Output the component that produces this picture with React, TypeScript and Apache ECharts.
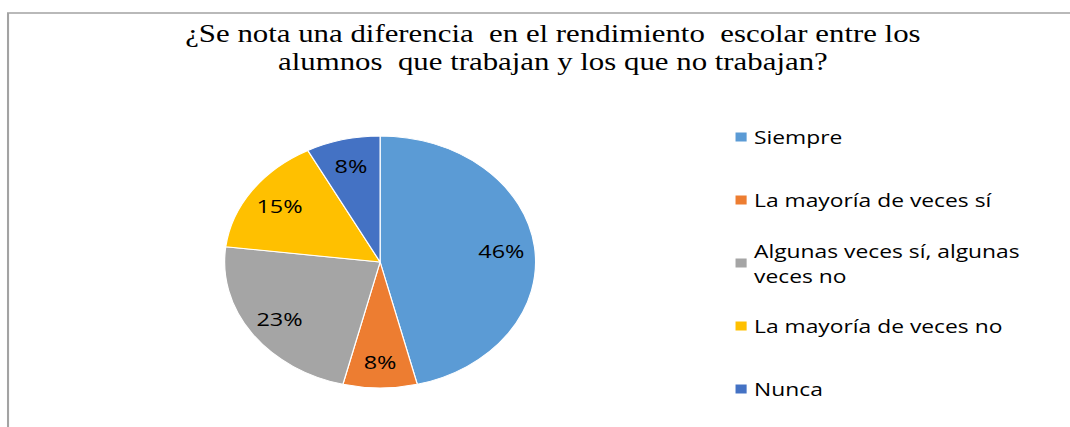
import React, { useEffect, useRef } from "react";
import * as echarts from "echarts";

// ---- data ----
const categories = [
  "Siempre",
  "La mayoría de veces sí",
  "Algunas veces sí, algunas veces no",
  "La mayoría de veces no",
  "Nunca",
];
const values = [6, 1, 3, 2, 1];
const colors = ["#5B9BD5", "#ED7D31", "#A5A5A5", "#FFC000", "#4472C4"];
const legendLabels = [
  "Siempre",
  "La mayoría de veces sí",
  "Algunas veces sí, algunas\nveces no",
  "La mayoría de veces no",
  "Nunca",
];
const titleText =
  "¿Se nota una diferencia  en el rendimiento  escolar entre los\nalumnos  que trabajan y los que no trabajan?";

// ---- layout ----
const W = 1070;
const H = 427;
const SX = 1.2341; // horizontal stretch of the original picture
const CW = W / SX;

export default function App() {
  const ref = useRef<HTMLDivElement>(null);

  useEffect(() => {
    if (!ref.current) return;
    const chart = echarts.init(ref.current, null, { renderer: "svg" });

    const legendFirst = 137;
    const legendStep = 63;
    const lineH = 25;

    const legends = categories.map((name, i) => {
      const c = legendFirst + legendStep * i;
      const twoLine = legendLabels[i].includes("\n");
      return {
        orient: "vertical",
        left: 594,
        top: twoLine ? c - lineH * 1.5 : c - lineH / 2,
        padding: 0,
        itemWidth: 11,
        itemHeight: 11,
        icon: "rect",
        selectedMode: false,
        data: [{ name }],
        formatter: () => legendLabels[i],
        textStyle: {
          fontFamily: "Open Sans",
          fontSize: 18.5,
          color: "#000",
          lineHeight: lineH,
          padding: twoLine ? [lineH, 0, 0, 0] : 0,
        },
      };
    });

    const pieData = categories.map((name, i) => ({
      name,
      value: values[i],
      itemStyle: { color: colors[i] },
    }));

    chart.setOption({
      animation: false,
      backgroundColor: "#ffffff",
      title: {
        text: titleText,
        left: 448,
        top: 20,
        textAlign: "center",
        padding: 0,
        textStyle: {
          fontFamily: "Liberation Serif",
          fontWeight: "normal",
          fontSize: 25,
          lineHeight: 28,
          color: "#000",
        },
      },
      legend: legends,
      graphic: [
        {
          type: "rect",
          silent: true,
          shape: { x: 6.5, y: 13, width: 3000, height: 3000 },
          style: { fill: "none", stroke: "#a3a3a3", lineWidth: 1.7 },
        },
      ],
      series: [
        {
          type: "pie",
          center: [308, 262],
          radius: 126,
          startAngle: 90,
          clockwise: true,
          label: { show: false },
          labelLine: { show: false },
          itemStyle: { borderColor: "#ffffff", borderWidth: 1 },
          emphasis: { disabled: true },
          data: pieData,
        },
        {
          type: "pie",
          center: [308, 262],
          radius: [66, 126],
          startAngle: 90,
          clockwise: true,
          silent: true,
          legendHoverLink: false,
          avoidLabelOverlap: false,
          itemStyle: { color: "rgba(0,0,0,0)", borderWidth: 0 },
          label: {
            show: true,
            position: "inside",
            formatter: (p: any) => Math.round(p.percent) + "%",
            fontFamily: "Open Sans",
            fontSize: 19,
            color: "#000",
          },
          labelLine: { show: false },
          emphasis: { disabled: true },
          data: pieData.map((d) => ({ name: d.name, value: d.value })),
        },
      ],
    });

    return () => chart.dispose();
  }, []);

  return (
    <div
      style={{
        position: "fixed",
        left: 0,
        top: 0,
        width: W,
        height: H,
        overflow: "hidden",
        background: "#fff",
      }}
    >
      <div
        ref={ref}
        style={{
          width: CW,
          height: H,
          transform: `scaleX(${SX})`,
          transformOrigin: "0 0",
        }}
      />
    </div>
  );
}
